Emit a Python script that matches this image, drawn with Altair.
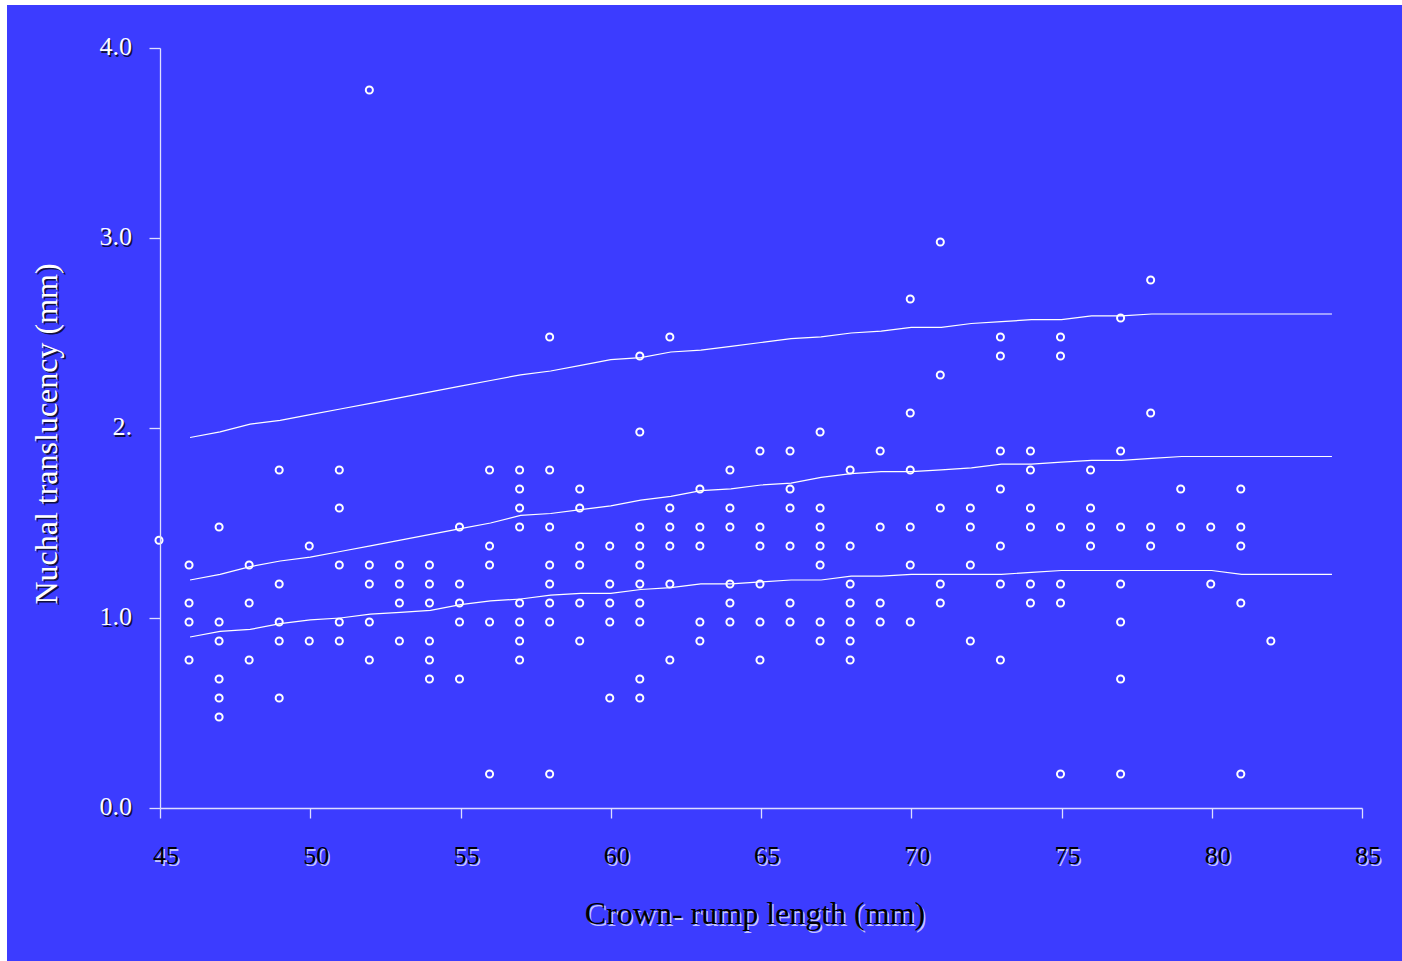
import altair as alt
import pandas as pd

# Crown-rump length (mm) of each column of observations
point_crl = [45, 46, 47, 48, 49, 50, 51, 52, 53, 54, 55, 56, 57, 58, 59, 60, 61, 62, 63,
             64, 65, 66, 67, 68, 69, 70, 71, 72, 73, 74, 75, 76, 77, 78, 79, 80, 81, 82]

# Nuchal translucency (mm) measured at each crown-rump length above
point_nt = [
    [1.43],
    [1.3, 1.1, 1.0, 0.8],
    [1.5, 1.0, 0.9, 0.7, 0.6, 0.5],
    [1.3, 1.1, 0.8],
    [1.8, 1.2, 1.0, 0.9, 0.6],
    [1.4, 0.9],
    [1.8, 1.6, 1.3, 1.0, 0.9],
    [3.8, 1.3, 1.2, 1.0, 0.8],
    [1.3, 1.2, 1.1, 0.9],
    [1.3, 1.2, 1.1, 0.9, 0.8, 0.7],
    [1.5, 1.2, 1.1, 1.0, 0.7],
    [1.8, 1.4, 1.3, 1.0, 0.2],
    [1.8, 1.7, 1.6, 1.5, 1.1, 1.0, 0.9, 0.8],
    [2.5, 1.8, 1.5, 1.3, 1.2, 1.1, 1.0, 0.2],
    [1.7, 1.6, 1.4, 1.3, 1.1, 0.9],
    [1.4, 1.2, 1.1, 1.0, 0.6],
    [2.4, 2.0, 1.5, 1.4, 1.3, 1.2, 1.1, 1.0, 0.7, 0.6],
    [2.5, 1.6, 1.5, 1.4, 1.2, 0.8],
    [1.7, 1.5, 1.4, 1.0, 0.9],
    [1.8, 1.6, 1.5, 1.2, 1.1, 1.0],
    [1.9, 1.5, 1.4, 1.2, 1.0, 0.8],
    [1.9, 1.7, 1.6, 1.4, 1.1, 1.0],
    [2.0, 1.6, 1.5, 1.4, 1.3, 1.0, 0.9],
    [1.8, 1.4, 1.2, 1.1, 1.0, 0.9, 0.8],
    [1.9, 1.5, 1.1, 1.0],
    [2.7, 2.1, 1.8, 1.5, 1.3, 1.0],
    [3.0, 2.3, 1.6, 1.2, 1.1],
    [1.6, 1.5, 1.3, 0.9],
    [2.5, 2.4, 1.9, 1.7, 1.4, 1.2, 0.8],
    [1.9, 1.8, 1.6, 1.5, 1.2, 1.1],
    [2.5, 2.4, 1.5, 1.2, 1.1, 0.2],
    [1.8, 1.6, 1.5, 1.4],
    [2.6, 1.9, 1.5, 1.2, 1.0, 0.7, 0.2],
    [2.8, 2.1, 1.5, 1.4],
    [1.7, 1.5],
    [1.5, 1.2],
    [1.7, 1.5, 1.4, 1.1, 0.2],
    [0.9],
]

# Reference centiles against crown-rump length
centile_crl = [46, 47, 48, 49, 50, 51, 52, 53, 54, 55, 56, 57, 58, 59, 60, 61, 62, 63, 64, 65,
               66, 67, 68, 69, 70, 71, 72, 73, 74, 75, 76, 77, 78, 79, 80, 81, 82, 83, 84]
p95 = [1.95, 1.98, 2.02, 2.04, 2.07, 2.10, 2.13, 2.16, 2.19, 2.22, 2.25, 2.28, 2.30, 2.33,
       2.36, 2.37, 2.40, 2.41, 2.43, 2.45, 2.47, 2.48, 2.50, 2.51, 2.53, 2.53, 2.55, 2.56,
       2.57, 2.57, 2.59, 2.59, 2.60, 2.60, 2.60, 2.60, 2.60, 2.60, 2.60]
p50 = [1.20, 1.23, 1.27, 1.30, 1.32, 1.35, 1.38, 1.41, 1.44, 1.47, 1.50, 1.54, 1.55, 1.57,
       1.59, 1.62, 1.64, 1.67, 1.68, 1.70, 1.71, 1.74, 1.76, 1.77, 1.77, 1.78, 1.79, 1.81,
       1.81, 1.82, 1.83, 1.83, 1.84, 1.85, 1.85, 1.85, 1.85, 1.85, 1.85]
p5 = [0.90, 0.93, 0.94, 0.97, 0.99, 1.00, 1.02, 1.03, 1.04, 1.07, 1.09, 1.10, 1.12, 1.13,
      1.13, 1.15, 1.16, 1.18, 1.18, 1.19, 1.20, 1.20, 1.22, 1.22, 1.23, 1.23, 1.23, 1.23,
      1.24, 1.25, 1.25, 1.25, 1.25, 1.25, 1.25, 1.23, 1.23, 1.23, 1.23]

# Axis ticks and their printed labels
x_ticks = [45, 50, 55, 60, 65, 70, 75, 80, 85]
x_tick_labels = ["45", "50", "55", "60", "65", "70", "75", "80", "85"]
y_ticks = [0, 1, 2, 3, 4]
y_tick_labels = ["0.0", "1.0", "2.", "3.0", "4.0"]

x_title = "Crown- rump length (mm)"
y_title = "Nuchal translucency (mm)"

BLUE = "#3c3cff"
AXIS = "#dedeff"
FONT = "Liberation Serif"

points = pd.DataFrame(
    [(c, v) for c, vals in zip(point_crl, point_nt) for v in vals],
    columns=["crl", "nt"],
)
centiles = pd.concat([
    pd.DataFrame({"crl": centile_crl, "nt": vals, "centile": name})
    for name, vals in (("95th", p95), ("50th", p50), ("5th", p5))
])
xt = pd.DataFrame({"v": x_ticks, "label": x_tick_labels})
yt = pd.DataFrame({"v": y_ticks, "label": y_tick_labels})
one = pd.DataFrame({"k": [0]})

x_scale = alt.Scale(domain=[45, 85], nice=False, zero=False)
y_scale = alt.Scale(domain=[0, 4], nice=False, zero=False)

x_axis = alt.Axis(values=x_ticks, labels=False, title=None, grid=False, tickSize=10,
                  domainColor=AXIS, tickColor=AXIS, domainWidth=1.3, tickWidth=1.3,
                  zindex=1)
y_axis = alt.Axis(values=y_ticks, labels=False, title=None, grid=False, tickSize=11,
                  domainColor=AXIS, tickColor=AXIS, domainWidth=1.3, tickWidth=1.3,
                  zindex=1)

# Slide background panel
panel = alt.Chart(one).mark_rect(color=BLUE).encode(
    x=alt.value(-153), x2=alt.value(1242), y=alt.value(-43), y2=alt.value(913)
)

dots = alt.Chart(points).mark_point(
    shape="circle", filled=False, color="white", size=50, strokeWidth=2,
    xOffset=-1, yOffset=4, opacity=1,
).encode(
    x=alt.X("crl:Q", scale=x_scale, axis=x_axis),
    y=alt.Y("nt:Q", scale=y_scale, axis=y_axis),
)

lines = alt.Chart(centiles).mark_line(color="white", strokeWidth=1.2).encode(
    x=alt.X("crl:Q", scale=x_scale),
    y=alt.Y("nt:Q", scale=y_scale),
    detail="centile:N",
)


def shadowed_text(data, enc, fg, shadow, size, shift=1.5, **mark):
    xo = mark.pop("xOffset", 0)
    yo = mark.pop("yOffset", 0)
    back = alt.Chart(data).mark_text(
        color=shadow, font=FONT, fontSize=size, xOffset=xo + shift, yOffset=yo + shift, **mark
    ).encode(**enc)
    front = alt.Chart(data).mark_text(
        color=fg, font=FONT, fontSize=size, xOffset=xo, yOffset=yo, **mark
    ).encode(**enc)
    return back + front


x_labels = shadowed_text(
    xt,
    dict(x=alt.X("v:Q", scale=x_scale), y=alt.datum(0, scale=y_scale), text="label:N"),
    "black", "#c4c4ff", 26, align="center", baseline="middle", xOffset=6, yOffset=48,
)
y_labels = shadowed_text(
    yt,
    dict(x=alt.datum(45), y=alt.Y("v:Q", scale=y_scale), text="label:N"),
    "white", "#101040", 26, align="right", baseline="middle", xOffset=-28, yOffset=-1,
)
x_name = shadowed_text(
    one,
    dict(x=alt.datum(65), y=alt.datum(0), text=alt.value(x_title)),
    "black", "#c4c4ff", 32, align="center", baseline="middle", xOffset=-6, yOffset=106,
)
y_name = shadowed_text(
    one,
    dict(x=alt.datum(45), y=alt.datum(2), text=alt.value(y_title)),
    "white", "#101040", 32, align="center", baseline="middle", angle=270,
    xOffset=-113, yOffset=6,
)

chart = alt.layer(
    panel, dots, lines, x_labels, y_labels, x_name, y_name
).properties(
    width=1202,
    height=760,
    autosize=alt.AutoSizeParams(type="none"),
    padding={"left": 160, "top": 48, "right": 40, "bottom": 153},
    background="white",
).configure_view(stroke=None)

chart.save("out.html", embed_options={"renderer": "svg", "actions": False})
